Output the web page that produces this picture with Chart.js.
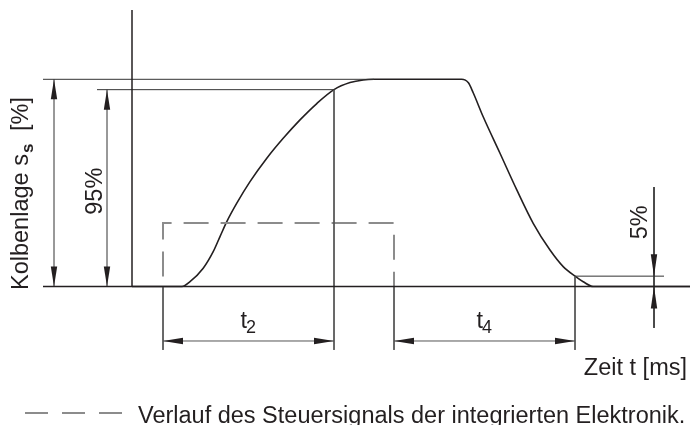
<!DOCTYPE html>
<html>
<head>
<meta charset="utf-8">
<script src="https://cdn.jsdelivr.net/npm/chart.js@4"></script>
<style>
  body { margin: 0; background: #fff; }
</style>
</head>
<body>
<canvas id="chart" width="699" height="425"></canvas>
<script>
// Kolbenlage over time (time in arbitrary ms units, stroke in %)
const curveTime = [0, 12.5, 14.5, 17.8, 20.3, 22.0, 23.7, 26.2, 29.5, 33.7, 37.8, 42.0, 46.2, 50.5, 54.5, 57.8, 60.5,
  82.4, 84.1, 85.3, 87.8, 92.0, 96.2, 100.3, 104.5, 107.8, 110.75, 112.8, 115.3, 139.5];
const curveStroke = [0, 0, 2.3, 8.8, 16.8, 24.1, 31.3, 40.2, 50.6, 61.9, 71.5, 80.4, 88.3, 95, 98.4, 99.7, 100,
  100, 98.3, 93.5, 81.9, 64.3, 46.6, 30.5, 17.6, 9.6, 5, 2.3, 0, 0];

// control signal of the integrated electronics (dashed)
const signalTime = [7.75, 7.75, 65.5, 65.5];
const signalLevel = [0, 30.6, 30.6, 0];

// reference levels (%)
const refLevels = [100, 95, 5];
const refFrom = [-22.25, -8.75, 110.75];
const refTo = [60.5, 50.5, 133];

// time spans t2 / t4
const spanNames = ['2', '4'];
const spanFrom = [7.75, 65.5];
const spanTo = [50.5, 110.75];
const spanLevel = -26.3;

// extension lines for the spans
const extTime = [7.75, 50.5, 65.5, 110.75];
const extTop = [0, 95, 0, 5];
const extBottom = -30.6;

// vertical dimensions (100 %, 95 %)
const vdimTime = [-19.5, -6.25];
const vdimTop = [100, 95];
const fivePctTime = 130.5;

const ink = '#231f20';
const thin = '#555555';
const font = '"Liberation Sans", Arial, sans-serif';

function line(xs, ys, color, width, dash) {
  return {
    data: xs.map((v, i) => ({ x: v, y: ys[i] })),
    borderColor: color,
    borderWidth: width,
    borderDash: dash || [],
    pointRadius: 0,
    fill: false,
    tension: 0
  };
}

const datasets = [];

// axes
datasets.push(line([0, 0], [0, 133.4], ink, 1.5));
datasets.push(line([-22.25, 139.5], [0, 0], ink, 1.5));

// reference lines
refLevels.forEach((lv, i) => datasets.push(line([refFrom[i], refTo[i]], [lv, lv], '#333', 1)));

// extension lines
extTime.forEach((t, i) => datasets.push(line([t, t], [extTop[i], extBottom], thin, 1)));

// span dimension lines
spanFrom.forEach((t, i) => datasets.push(line([t, spanTo[i]], [spanLevel, spanLevel], thin, 1)));

// vertical dimension lines
vdimTime.forEach((t, i) => datasets.push(line([t, t], [0, vdimTop[i]], '#333', 1)));
datasets.push(line([fivePctTime, fivePctTime], [48, -20], '#333', 1));

// control signal
datasets.push(Object.assign(line(signalTime, signalLevel, '#8c8c8c', 2, [25, 12]), { borderDashOffset: -10 }));

// legend sample
datasets.push(line([-26.75, -2.5], [-61, -61], '#8c8c8c', 2, [23, 14]));

// main curve
datasets.push(Object.assign(line(curveTime, curveStroke, ink, 1.6), { cubicInterpolationMode: 'monotone' }));

const drawing = {
  id: 'drawing',
  afterDatasetsDraw(chart) {
    const { ctx, scales: { x, y } } = chart;
    const X = v => x.getPixelForValue(v);
    const Y = v => y.getPixelForValue(v);

    ctx.save();
    ctx.fillStyle = ink;

    // filled arrow head, tip at (px, py), pointing along (dx, dy)
    function arrow(px, py, dx, dy, len) {
      const L = len || 20, W = 3.2;
      ctx.beginPath();
      ctx.moveTo(px, py);
      ctx.lineTo(px - dx * L - dy * W, py - dy * L + dx * W);
      ctx.lineTo(px - dx * L + dy * W, py - dy * L - dx * W);
      ctx.closePath();
      ctx.fill();
    }

    vdimTime.forEach((t, i) => {
      arrow(X(t), Y(vdimTop[i]), 0, -1);
      arrow(X(t), Y(0), 0, 1);
    });
    spanFrom.forEach((t, i) => {
      arrow(X(t), Y(spanLevel), -1, 0);
      arrow(X(spanTo[i]), Y(spanLevel), 1, 0);
    });
    arrow(X(fivePctTime), Y(5), 0, 1, 22);
    arrow(X(fivePctTime), Y(0), 0, -1, 22);

    ctx.textBaseline = 'alphabetic';

    // y title
    ctx.save();
    ctx.translate(28, 290);
    ctx.rotate(-Math.PI / 2);
    ctx.font = '23.5px ' + font;
    ctx.textAlign = 'left';
    ctx.fillText('Kolbenlage s', 0, 0);
    const w1 = ctx.measureText('Kolbenlage s').width;
    ctx.font = 'bold 17px ' + font;
    ctx.fillText('s', w1 + 1, 5);
    ctx.font = '23.5px ' + font;
    ctx.textAlign = 'right';
    ctx.fillText('[%]', 193, 0);
    ctx.restore();

    // 95% and 5%
    ctx.font = '23.5px ' + font;
    ctx.textAlign = 'center';
    ctx.save();
    ctx.translate(X(-6.25) - 5, Y(46));
    ctx.rotate(-Math.PI / 2);
    ctx.fillText('95%', 0, 0);
    ctx.restore();
    ctx.save();
    ctx.translate(X(fivePctTime) - 7, Y(31));
    ctx.rotate(-Math.PI / 2);
    ctx.fillText('5%', 0, 0);
    ctx.restore();

    // t2 / t4
    spanNames.forEach((s, i) => {
      const cx = X((spanFrom[i] + spanTo[i]) / 2);
      ctx.textAlign = 'left';
      ctx.font = '23.5px ' + font;
      ctx.fillText('t', cx - 8, Y(-20));
      ctx.font = '18px ' + font;
      ctx.fillText(s, cx - 2.5, Y(-20) + 5);
    });

    // x title
    ctx.font = '23.5px ' + font;
    ctx.textAlign = 'right';
    ctx.fillText('Zeit t [ms]', 687, 375);

    // legend text
    ctx.textAlign = 'left';
    ctx.fillText('Verlauf des Steuersignals der integrierten Elektronik.', 138, 423);

    ctx.restore();
  }
};

new Chart(document.getElementById('chart'), {
  type: 'line',
  data: { datasets },
  options: {
    responsive: false,
    animation: false,
    events: [],
    layout: { padding: 0 },
    plugins: { legend: { display: false }, tooltip: { enabled: false } },
    scales: {
      x: { type: 'linear', min: -33, max: 141.75, display: false },
      y: { type: 'linear', min: -66.84, max: 138.27, display: false }
    }
  },
  plugins: [drawing]
});
</script>
</body>
</html>
